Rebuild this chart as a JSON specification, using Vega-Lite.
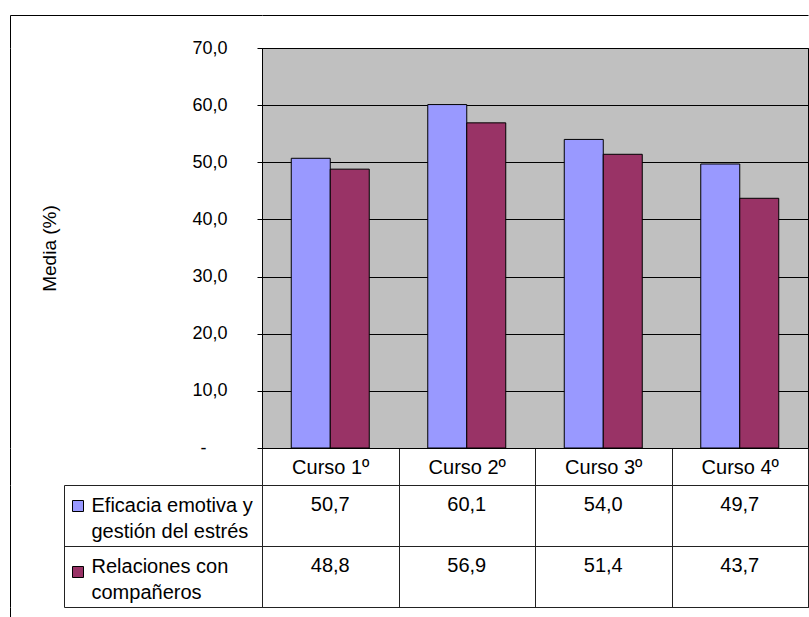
{
  "$schema": "https://vega.github.io/schema/vega-lite/v6.json",
  "autosize": {"type": "pad"},
  "padding": {"left": 9, "top": 14, "right": 0, "bottom": 0},
  "background": "white",
  "bounds": "flush",
  "columns": 2,
  "spacing": {"row": 37, "column": 0},
  "datasets": {
    "medias": [
      {"curso": "Curso 1º", "serie": "Eficacia emotiva y gestión del estrés", "media": 50.7},
      {"curso": "Curso 1º", "serie": "Relaciones con compañeros", "media": 48.8},
      {"curso": "Curso 2º", "serie": "Eficacia emotiva y gestión del estrés", "media": 60.1},
      {"curso": "Curso 2º", "serie": "Relaciones con compañeros", "media": 56.9},
      {"curso": "Curso 3º", "serie": "Eficacia emotiva y gestión del estrés", "media": 54.0},
      {"curso": "Curso 3º", "serie": "Relaciones con compañeros", "media": 51.4},
      {"curso": "Curso 4º", "serie": "Eficacia emotiva y gestión del estrés", "media": 49.7},
      {"curso": "Curso 4º", "serie": "Relaciones con compañeros", "media": 43.7}
    ]
  },
  "data": {"name": "medias"},
  "concat": [
    {
      "width": 252,
      "height": 400,
      "view": {"stroke": null},
      "encoding": {
        "y": {
          "field": "media", "type": "quantitative",
          "scale": {"domain": [0, 400], "nice": false, "zero": false},
          "axis": {"orient": "left", "ticks": false, "labels": false, "grid": false, "domainColor": "black", "title": null}
        }
      },
      "layer": [
        {
          "mark": {"type": "point", "opacity": 0},
          "encoding": {
            "x": {
              "field": "media", "type": "quantitative",
              "scale": {"domain": [0, 252], "nice": false, "zero": false},
              "axis": {"orient": "top", "offset": 33, "values": [0], "tickSize": -33, "tickColor": "black", "domainColor": "black", "labels": false, "grid": false, "title": null}
            }
          }
        },
        {
          "mark": {"type": "point", "opacity": 0},
          "encoding": {
            "x": {
              "field": "media", "type": "quantitative",
              "axis": {"orient": "bottom", "values": [0], "tickSize": 37, "tickColor": "black", "domain": false, "labels": false, "grid": false, "title": null}
            }
          }
        }
      ],
      "resolve": {"axis": {"x": "independent"}}
    },
    {
      "width": 546,
      "height": 400,
      "view": {"fill": "#C0C0C0", "stroke": "black"},
      "encoding": {
        "xOffset": {
          "field": "serie", "type": "nominal",
          "scale": {"paddingInner": 0, "paddingOuter": 0.75}
        },
        "y": {
          "field": "media", "type": "quantitative",
          "scale": {"domain": [0, 70], "nice": false},
          "axis": {
            "values": [0, 10, 20, 30, 40, 50, 60, 70],
            "format": ".1f",
            "labelExpr": "datum.value === 0 ? '-' : datum.label",
            "labelFontSize": 18, "labelColor": "black", "labelFlush": false,
            "labelPadding": {"condition": {"test": "datum.value === 0", "value": 51}, "value": 30},
            "tickSize": 5, "tickColor": "black", "domainColor": "black",
            "grid": true, "gridColor": "black", "gridOpacity": 1,
            "title": "Media (%)", "titleFontSize": 19, "titleFontWeight": "normal", "titleColor": "black",
            "titleAngle": 270, "titleBaseline": "middle", "titleX": -213, "titleY": 200
          }
        }
      },
      "layer": [
        {
          "mark": {"type": "bar", "stroke": "black", "strokeWidth": 1},
          "encoding": {
            "x": {
              "field": "curso", "type": "nominal",
              "scale": {"paddingInner": 0, "paddingOuter": 0},
              "axis": {"title": null, "orient": "bottom", "labelAngle": 0, "labelFontSize": 20, "labelColor": "black", "labelBaseline": "alphabetic", "labelPadding": -12, "tickBand": "extent", "tickSize": 37, "tickColor": "#222", "domainColor": "black", "grid": false}
            },
            "color": {
              "field": "serie", "type": "nominal",
              "scale": {"domain": ["Eficacia emotiva y gestión del estrés", "Relaciones con compañeros"], "range": ["#9999FF", "#993366"]},
              "legend": {"orient": "none", "legendX": 62, "legendY": 452, "direction": "vertical", "title": null, "labelExpr": "''", "symbolType": "square", "symbolSize": 121, "symbolStrokeColor": "black", "symbolStrokeWidth": 1, "symbolOpacity": 1, "rowPadding": 50, "padding": 0, "offset": 0, "symbolOffset": 0}
            }
          }
        },
        {
          "mark": {"type": "bar", "opacity": 0},
          "encoding": {
            "x": {
              "field": "curso", "type": "nominal",
              "axis": {"orient": "top", "offset": 33, "ticks": false, "labels": false, "grid": false, "domainColor": "black", "title": null}
            }
          }
        }
      ],
      "resolve": {"axis": {"x": "independent"}}
    },
    {
      "width": 252,
      "height": 122,
      "view": {"stroke": null},
      "layer": [
        {
          "mark": {"type": "text"},
          "encoding": {
            "x": {
              "field": "media", "type": "quantitative",
              "scale": {"domain": [0, 252], "nice": false, "zero": false},
              "axis": {"orient": "bottom", "values": [0], "tickSize": 11, "tickColor": "black", "domain": false, "labels": false, "grid": false, "title": null}
            },
            "y": {
              "field": "serie", "type": "nominal",
              "scale": {"type": "band", "paddingInner": 0, "paddingOuter": 0},
              "axis": {"orient": "left", "offset": -54, "tickBand": "extent", "ticks": true, "tickSize": -198, "tickColor": "#222", "domainColor": "#222", "labels": false, "grid": false, "title": null}
            },
            "text": {"value": ""}
          }
        },
        {
          "mark": {"type": "text"},
          "encoding": {
            "x": {
              "field": "media", "type": "quantitative",
              "axis": {"orient": "top", "values": [0], "tickSize": -122, "tickColor": "black", "domain": false, "labels": false, "grid": false, "title": null}
            },
            "y": {
              "field": "serie", "type": "nominal",
              "axis": {
                "title": null, "orient": "right", "ticks": false, "tickSize": 0, "domain": false, "grid": false,
                "labelAlign": "left", "labelBaseline": "alphabetic", "labelOffset": -3.5, "labelPadding": -171,
                "labelFontSize": 20, "labelLineHeight": 26, "labelColor": "black", "labelLimit": 400, "labelOverlap": false,
                "labelExpr": "[slice(datum.label, 0, lastindexof(datum.label, ' ', 18)), slice(datum.label, lastindexof(datum.label, ' ', 18) + 1)]"
              }
            },
            "text": {"value": ""}
          }
        }
      ],
      "resolve": {"axis": {"x": "independent", "y": "independent"}}
    },
    {
      "width": 546,
      "height": 122,
      "view": {"stroke": "#222"},
      "mark": {"type": "text", "fontSize": 20, "baseline": "alphabetic", "dy": -4.5, "color": "black"},
      "encoding": {
        "x": {
          "field": "curso", "type": "nominal",
          "scale": {"type": "band", "paddingInner": 0, "paddingOuter": 0},
          "axis": {"title": null, "labels": false, "ticks": false, "domain": false, "grid": true, "tickBand": "extent", "gridColor": "#222", "gridOpacity": 1}
        },
        "y": {
          "field": "serie", "type": "nominal",
          "scale": {"type": "band", "paddingInner": 0, "paddingOuter": 0},
          "axis": {"title": null, "labels": false, "ticks": false, "domain": false, "grid": true, "tickBand": "extent", "gridColor": "#222", "gridOpacity": 1}
        },
        "text": {"field": "media", "type": "quantitative", "format": ".1f"}
      }
    }
  ],
  "config": {
    "font": "Liberation Sans",
    "locale": {"number": {"decimal": ",", "thousands": ".", "grouping": [3], "currency": ["", " €"]}},
    "axis": {"labelColor": "black", "titleColor": "black"}
  }
}
